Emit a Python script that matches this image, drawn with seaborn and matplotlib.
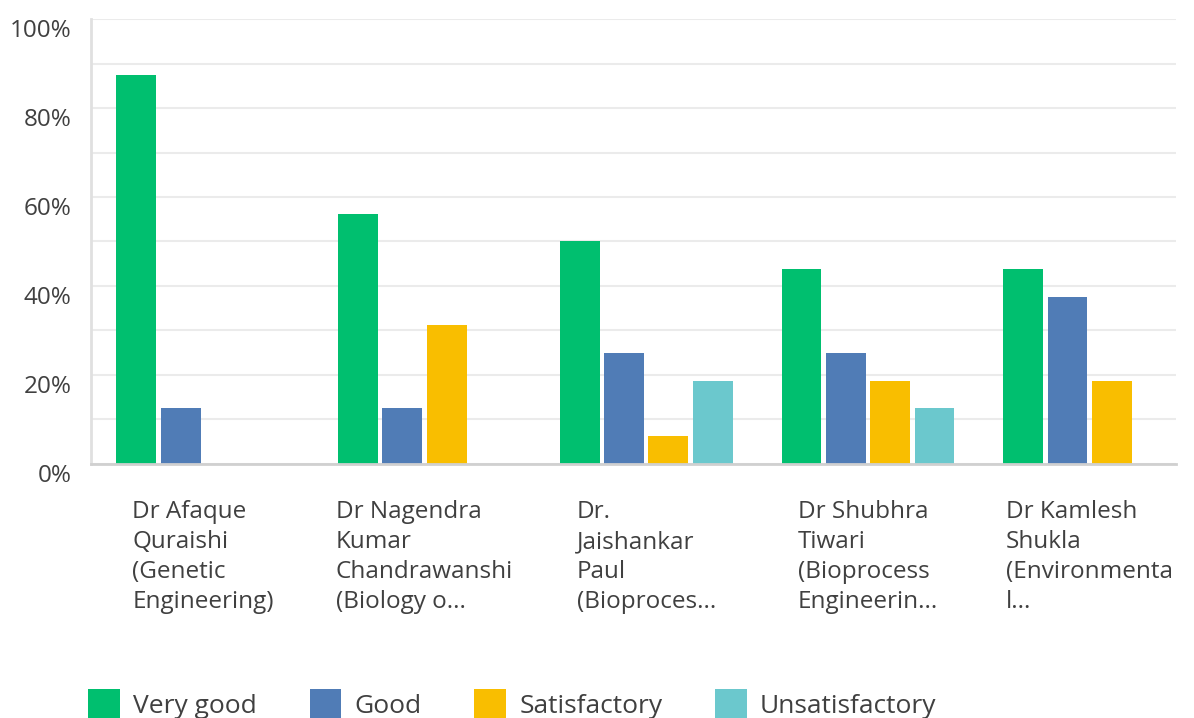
import pandas as pd
import matplotlib
matplotlib.use("Agg")
import matplotlib.pyplot as plt
import seaborn as sns
import numpy as np

# Data
teachers = ["Dr Afaque\nQuraishi\n(Genetic\nEngineering)",
            "Dr Nagendra\nKumar\nChandrawanshi\n(Biology o...",
            "Dr.\nJaishankar\nPaul\n(Bioproces...",
            "Dr Shubhra\nTiwari\n(Bioprocess\nEngineerin...",
            "Dr Kamlesh\nShukla\n(Environmenta\nl..."]
ratings = ["Very good", "Good", "Satisfactory", "Unsatisfactory"]
very_good = [87.5, 56.25, 50.0, 43.75, 43.75]
good = [12.5, 12.5, 25.0, 25.0, 37.5]
satisfactory = [0.0, 31.25, 6.25, 18.75, 18.75]
unsatisfactory = [0.0, 0.0, 18.75, 12.5, 0.0]
colors = ["#00BF6F", "#507CB6", "#F9BE00", "#6BC8CD"]

rows = []
for i, t in enumerate(teachers):
    for r, vals in zip(ratings, [very_good, good, satisfactory, unsatisfactory]):
        rows.append({"Teacher": t, "Rating": r, "Percent": vals[i]})
df = pd.DataFrame(rows)

sns.set_style("white")
plt.rcParams['font.family'] = ['Open Sans', 'DejaVu Sans']
text_col = "#404040"

fig = plt.figure(figsize=(11.94, 7.18), dpi=100)
ax = fig.add_axes([0.0762, 0.3538, 0.9088, 0.6197])

sns.barplot(data=df, x="Teacher", y="Percent", hue="Rating", order=teachers,
            hue_order=ratings, palette=colors, width=0.8, gap=0.1,
            saturation=1, linewidth=0, ax=ax, legend=True)

ax.set_ylim(0, 100)
ax.set_xlim(-0.505, 4.39)
ax.set_yticks(np.arange(0, 101, 20))
ax.set_yticks(np.arange(0, 101, 10), minor=True)
ax.set_yticklabels([f"{v}%" for v in range(0, 101, 20)], fontsize=17.5, color=text_col)
for lbl in ax.get_yticklabels():
    lbl.set_va("top")
ax.grid(axis="y", which="both", color="#EBEBEB", linewidth=1.5)
ax.set_axisbelow(True)
ax.tick_params(axis="y", which="both", length=0, pad=14)
ax.tick_params(axis="x", length=0, pad=26)
ax.set_xticklabels(teachers, fontsize=17.5, color=text_col, linespacing=1.33,
                   multialignment="left")
ax.set_xlabel("")
ax.set_ylabel("")

for s in ["top", "right"]:
    ax.spines[s].set_visible(False)
ax.spines["left"].set_color("#E0E0E0")
ax.spines["left"].set_linewidth(2)
ax.spines["bottom"].set_color("#D0D0D0")
ax.spines["bottom"].set_linewidth(2)

handles, labels = ax.get_legend_handles_labels()
ax.get_legend().remove()
fig.legend(handles, labels, loc="lower left", bbox_to_anchor=(0.054, -0.034),
           ncol=4, frameon=False, fontsize=19, labelcolor=text_col,
           handlelength=1.2, handleheight=1.35, handletextpad=0.5,
           columnspacing=2.0)

fig.savefig("out.png", dpi=100)
